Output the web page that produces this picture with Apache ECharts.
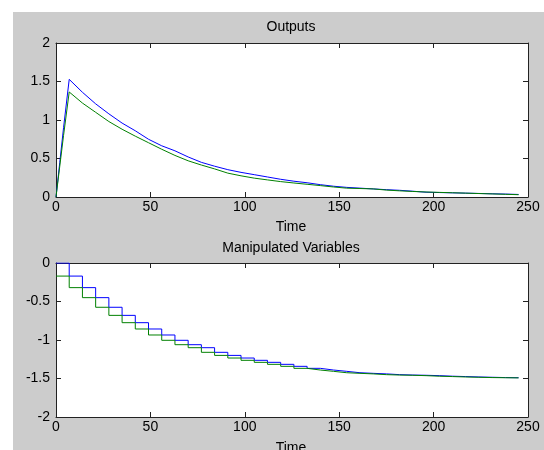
<!DOCTYPE html>
<html>
<head>
<meta charset="utf-8">
<script src="https://cdn.jsdelivr.net/npm/echarts@6/dist/echarts.min.js"></script>
<style>
  html, body { margin: 0; padding: 0; background: #ffffff; width: 544px; height: 450px; overflow: hidden; }
  #chart { position: absolute; left: 13px; top: 12px; width: 531px; height: 438px; }
</style>
</head>
<body>
<div id="chart"></div>
<script>
// ---- Data ----
var xTicks = [0, 50, 100, 150, 200, 250];
var yTicksOut = [0, 0.5, 1, 1.5, 2];
var yTicksMV = [-2, -1.5, -1, -0.5, 0];

// Outputs (top plot)
var tOut = [0, 2, 4, 7, 14, 21, 28, 35, 42, 49, 56, 63, 70, 77, 84, 91, 98, 105, 112, 119, 126, 133, 140, 147, 154, 161, 168, 175, 182, 189, 196, 203, 210, 217, 224, 231, 238, 245];
var yOutBlue = [0, 0.45, 0.9, 1.528, 1.36, 1.21, 1.08, 0.96, 0.86, 0.75, 0.665, 0.6, 0.52, 0.45, 0.4, 0.355, 0.32, 0.29, 0.26, 0.23, 0.205, 0.185, 0.16, 0.14, 0.125, 0.115, 0.105, 0.095, 0.087, 0.075, 0.062, 0.058, 0.054, 0.05, 0.046, 0.042, 0.038, 0.033];
var yOutGreen = [0, 0.4, 0.8, 1.364, 1.22, 1.1, 0.98, 0.88, 0.79, 0.705, 0.62, 0.54, 0.47, 0.415, 0.365, 0.31, 0.275, 0.245, 0.222, 0.2, 0.182, 0.165, 0.148, 0.13, 0.115, 0.11, 0.105, 0.09, 0.08, 0.072, 0.065, 0.06, 0.055, 0.05, 0.045, 0.04, 0.035, 0.03];

// Manipulated variables (bottom plot), held over each 7-unit interval
var tMV = [0, 7, 14, 21, 28, 35, 42, 49, 56, 63, 70, 77, 84, 91, 98, 105, 112, 119, 126, 133, 140, 147, 154, 161, 168, 175, 182, 189, 196, 203, 210, 217, 224, 231, 238, 245];
var uBlue = [0, -0.17, -0.32, -0.45, -0.575, -0.68, -0.775, -0.857, -0.935, -1.004, -1.061, -1.1, -1.16, -1.2, -1.234, -1.264, -1.29, -1.316, -1.342, -1.368, -1.39, -1.407, -1.425, -1.433, -1.44, -1.45, -1.455, -1.458, -1.463, -1.47, -1.475, -1.48, -1.484, -1.488, -1.49, -1.49];
var uGreen = [-0.17, -0.32, -0.45, -0.575, -0.68, -0.775, -0.857, -0.935, -1.004, -1.061, -1.1, -1.16, -1.2, -1.234, -1.264, -1.29, -1.316, -1.342, -1.368, -1.39, -1.407, -1.425, -1.433, -1.44, -1.45, -1.455, -1.458, -1.463, -1.47, -1.475, -1.48, -1.484, -1.488, -1.49, -1.492, -1.492];

function pairs(xs, ys) { return xs.map(function (x, i) { return [x, ys[i]]; }); }

var FONT = 'Liberation Sans, Arial, sans-serif';
var AXIS_COLOR = '#222222';
var BLUE = '#0000ff';
var GREEN = '#008000';

function xAxisPair(gi) {
  var base = {
    type: 'value', gridIndex: gi, min: xTicks[0], max: xTicks[xTicks.length - 1], interval: 50,
    splitLine: { show: false },
    axisLine: { show: true, onZero: false, lineStyle: { color: AXIS_COLOR, width: 1 } },
    axisTick: { show: true, inside: true, length: 5, lineStyle: { color: AXIS_COLOR } }
  };
  var bottom = Object.assign({}, base, {
    position: 'bottom',
    axisLabel: { show: true, margin: 3, fontSize: 14, color: '#000', fontFamily: FONT }
  });
  var top = Object.assign({}, base, { position: 'top', axisLabel: { show: false } });
  return [bottom, top];
}
function yAxisPair(gi, ticks) {
  var base = {
    type: 'value', gridIndex: gi, min: ticks[0], max: ticks[ticks.length - 1], interval: 0.5,
    splitLine: { show: false },
    axisLine: { show: true, onZero: false, lineStyle: { color: AXIS_COLOR, width: 1 } },
    axisTick: { show: true, inside: true, length: 5, lineStyle: { color: AXIS_COLOR } }
  };
  var left = Object.assign({}, base, {
    position: 'left',
    axisLabel: { show: true, margin: 6, fontSize: 14, color: '#000', fontFamily: FONT }
  });
  var right = Object.assign({}, base, { position: 'right', axisLabel: { show: false } });
  return [left, right];
}

var xa = xAxisPair(0).concat(xAxisPair(1));
var ya = yAxisPair(0, yTicksOut).concat(yAxisPair(1, yTicksMV));

var chart = echarts.init(document.getElementById('chart'), null, { renderer: 'canvas' });
chart.setOption({
  animation: false,
  backgroundColor: '#cccccc',
  grid: [
    { left: 43, top: 31, width: 472, height: 154, show: true, backgroundColor: '#ffffff', borderWidth: 0 },
    { left: 43, top: 251, width: 472, height: 154, show: true, backgroundColor: '#ffffff', borderWidth: 0 }
  ],
  xAxis: xa,
  yAxis: ya,
  graphic: [
    { type: 'text', style: { x: 278, y: 15, text: 'Outputs', font: '14px ' + FONT, fill: '#000', align: 'center', verticalAlign: 'middle' } },
    { type: 'text', style: { x: 278, y: 215, text: 'Time', font: '14px ' + FONT, fill: '#000', align: 'center', verticalAlign: 'middle' } },
    { type: 'text', style: { x: 278, y: 236, text: 'Manipulated Variables', font: '14px ' + FONT, fill: '#000', align: 'center', verticalAlign: 'middle' } },
    { type: 'text', style: { x: 278, y: 436, text: 'Time', font: '14px ' + FONT, fill: '#000', align: 'center', verticalAlign: 'middle' } }
  ],
  series: [
    { type: 'line', xAxisIndex: 0, yAxisIndex: 0, data: pairs(tOut, yOutBlue), showSymbol: false, symbol: 'none', lineStyle: { color: BLUE, width: 1 }, itemStyle: { color: BLUE } },
    { type: 'line', xAxisIndex: 0, yAxisIndex: 0, data: pairs(tOut, yOutGreen), showSymbol: false, symbol: 'none', lineStyle: { color: GREEN, width: 1 }, itemStyle: { color: GREEN } },
    { type: 'line', step: 'end', xAxisIndex: 2, yAxisIndex: 2, data: pairs(tMV, uBlue), showSymbol: false, symbol: 'none', lineStyle: { color: BLUE, width: 1 }, itemStyle: { color: BLUE } },
    { type: 'line', step: 'end', xAxisIndex: 2, yAxisIndex: 2, data: pairs(tMV, uGreen), showSymbol: false, symbol: 'none', lineStyle: { color: GREEN, width: 1 }, itemStyle: { color: GREEN } }
  ]
});
</script>
</body>
</html>
